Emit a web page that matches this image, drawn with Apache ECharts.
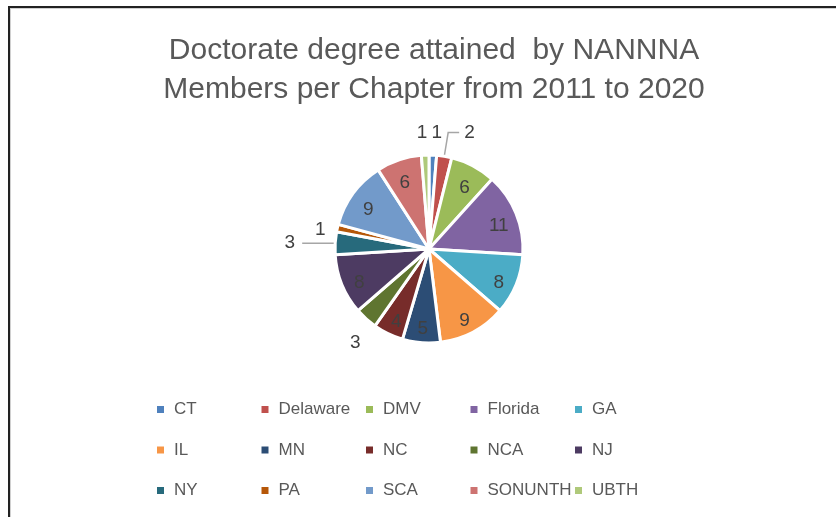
<!DOCTYPE html>
<html>
<head>
<meta charset="utf-8">
<script src="https://cdn.jsdelivr.net/npm/echarts@6/dist/echarts.min.js"></script>
<style>
  html, body { margin: 0; padding: 0; background: #fff; }
  #wrap { position: relative; width: 836px; height: 517px; overflow: hidden; }
  #frame { position: absolute; left: 8px; top: 6px; width: 840px; height: 520px;
           border-left: 2px solid #222; border-top: 2px solid #222; box-shadow: inset 1px 1px 0 #d0d0d0; }
  #chart { position: absolute; left: 0; top: 0; width: 836px; height: 517px; }
</style>
</head>
<body>
<div id="wrap">
  <div id="chart"></div>
  <div id="frame"></div>
</div>
<script>
var chapters = ['CT', 'Delaware', 'DMV', 'Florida', 'GA', 'IL', 'MN', 'NC', 'NCA', 'NJ', 'NY', 'PA', 'SCA', 'SONUNTH', 'UBTH'];
var doctorates = [1, 2, 6, 11, 8, 9, 5, 4, 3, 8, 3, 1, 9, 6, 1];
var colors = ['#4F81BD', '#C0504D', '#9BBB59', '#8064A2', '#4BACC6', '#F79646', '#2C4D75', '#772C2A',
              '#5F7530', '#4D3B62', '#276A7C', '#B65708', '#729ACA', '#CD7371', '#AFC97A'];

// leader line settings for the small slices that get outside labels
var outsideLines = {
    CT:       { show: false, length: 18, length2: 0 },
    UBTH:     { show: false, length: 18, length2: 0 },
    Delaware: { show: true,  length: 24, length2: 11 },
    NCA:      { show: false, length: 20, length2: 2 },
    NY:       { show: true,  length: 2,  length2: 31 },
    PA:       { show: false, length: 12, length2: 2 }
};
// small nudges so the labels sit where Excel's best-fit put them
var labelNudge = {
    CT: [-7, -4], UBTH: [8, -4], NCA: [15, 9], PA: [7, 4], Delaware: [0, 0], NY: [-2, 0]
};

var myChart = echarts.init(document.getElementById('chart'));

var cx = 429, cy = 249, r = 94;

var pieData = chapters.map(function (name, i) {
    return { name: name, value: doctorates[i], itemStyle: { color: colors[i] } };
});

var labelData = chapters.map(function (name, i) {
    var ln = outsideLines[name];
    return {
        name: name,
        value: doctorates[i],
        label: { position: ln ? 'outside' : 'inside' },
        labelLine: ln ? ln : { show: false }
    };
});

// legend: 5 columns x 3 rows, one legend per item
var legends = chapters.map(function (name, i) {
    return {
        data: [name],
        left: 152 + (i % 5) * 104.5,
        top: 396 + Math.floor(i / 5) * 40.5,
        icon: 'rect',
        itemWidth: 7,
        itemHeight: 7,
        itemStyle: { borderWidth: 0 },
        selectedMode: false,
        textStyle: { color: '#595959', fontSize: 17, fontFamily: 'Liberation Sans', padding: [0, 0, 0, 5] }
    };
});

var option = {
    backgroundColor: '#fff',
    animation: false,
    title: {
        text: 'Doctorate degree attained  by NANNNA\nMembers per Chapter from 2011 to 2020',
        left: 429,
        textAlign: 'center',
        top: 26,
        textStyle: { color: '#595959', fontSize: 30, fontWeight: 'normal', fontFamily: 'Liberation Sans', lineHeight: 39 }
    },
    legend: legends,
    series: [
        {
            name: 'Doctorate',
            type: 'pie',
            center: [cx, cy],
            radius: [0, r],
            startAngle: 90,
            clockwise: true,
            label: { show: false },
            labelLine: { show: false },
            itemStyle: { borderColor: '#fff', borderWidth: 3 },
            data: pieData
        },
        {
            name: 'labels',
            type: 'pie',
            center: [cx, cy],
            radius: [r * 0.54, r],
            startAngle: 90,
            clockwise: true,
            silent: true,
            avoidLabelOverlap: false,
            legendHoverLink: false,
            itemStyle: { color: 'rgba(0,0,0,0)', borderWidth: 0 },
            label: { show: true, formatter: '{c}', color: '#404040', fontSize: 19, fontFamily: 'Liberation Sans' },
            labelLine: { lineStyle: { color: '#a6a6a6', width: 1.5 } },
            labelLayout: function (p) {
                var n = labelNudge[chapters[p.dataIndex]] || [0, 5];
                return { hideOverlap: false, dx: n[0], dy: n[1] };
            },
            data: labelData
        }
    ]
};
myChart.setOption(option);
</script>
</body>
</html>
